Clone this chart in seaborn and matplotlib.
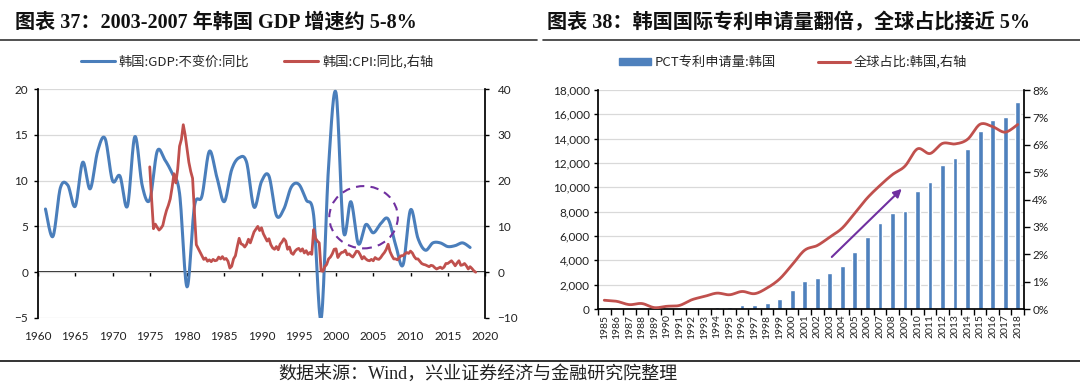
import numpy as np
import pandas as pd
import matplotlib
matplotlib.use("Agg")
import matplotlib.pyplot as plt
from matplotlib.patches import Ellipse, Patch
from matplotlib.lines import Line2D
from matplotlib.ticker import FuncFormatter, PercentFormatter
import seaborn as sns

#==============================================================#
# data
#==============================================================#

# chart 37: Korea real GDP growth (annual, %) and CPI yoy (quarterly, %, right axis)
gdp_years = list(range(1961, 2019))
gdp_growth = [6.9, 3.9, 9.2, 9.5, 7.2, 12.0, 9.1, 13.2, 14.6, 10.0,
              10.5, 7.2, 14.8, 9.4, 7.9, 13.2, 12.3, 10.8, 8.6, -1.6,
              7.2, 8.3, 13.2, 10.4, 7.7, 11.2, 12.5, 12.0, 7.1, 9.9,
              10.5, 6.2, 6.9, 9.3, 9.6, 7.9, 6.2, -5.1, 11.5, 19.6,
              4.5, 7.7, 3.1, 5.2, 4.3, 5.3, 5.8, 3.0, 0.8, 6.8,
              3.7, 2.4, 3.2, 3.2, 2.8, 2.9, 3.2, 2.7]

cpi_start = 1975
cpi_yoy = [23.0, 16.0, 9.5, 10.5,   # 1975
           9.8, 9.2, 9.6, 10.2,     # 1976
           12.0, 13.5, 14.6, 16.0,  # 1977
           18.5, 21.5, 19.5, 22.5,  # 1978
           27.5, 29.0, 32.2, 30.0,  # 1979
           27.0, 24.0, 22.0, 20.5,  # 1980
           13.0, 6.0, 5.2, 4.4,     # 1981
           3.6, 2.8, 3.1, 2.4,      # 1982
           2.7, 2.3, 2.8, 2.5,      # 1983
           2.6, 3.3, 2.9, 3.4,      # 1984
           2.8, 3.0, 2.4, 0.9,      # 1985
           1.3, 2.9, 3.6, 5.6,      # 1986
           7.4, 6.2, 6.0, 5.5,      # 1987
           6.1, 7.2, 6.4, 7.6,      # 1988
           8.8, 9.4, 10.0, 9.1,     # 1989
           9.7, 8.4, 7.6, 6.8,      # 1990
           7.3, 6.0, 5.3, 5.0,      # 1991
           5.6, 4.9, 6.1, 6.6,      # 1992
           7.3, 6.8, 5.0, 5.5,      # 1993
           4.2, 3.9, 4.6, 5.0,      # 1994
           5.2, 4.6, 5.1, 4.2,      # 1995
           4.7, 3.9, 4.3, 3.9,      # 1996
           9.3, 7.4, 6.8, 6.4,      # 1997
           0.3, 0.2, 1.2, 1.7,      # 1998
           2.9, 3.3, 4.0, 5.0,      # 1999
           5.1, 3.2, 3.9, 4.3,      # 2000
           4.4, 4.8, 3.8, 4.0,      # 2001
           3.6, 3.3, 3.9, 4.6,      # 2002
           4.5, 3.8, 2.9, 3.4,      # 2003
           2.9, 2.6, 2.5, 2.8,      # 2004
           2.5, 3.2, 2.9, 2.8,      # 2005
           3.2, 3.8, 4.3, 5.0,      # 2006
           6.1, 4.5, 3.6, 2.9,      # 2007
           2.9, 2.7, 3.2, 3.6,      # 2008
           3.6, 4.0, 4.3, 4.1,      # 2009
           4.6, 4.2, 3.4, 2.9,      # 2010
           2.9, 2.4, 1.9, 1.7,      # 2011
           1.6, 1.4, 1.2, 1.5,      # 2012
           1.4, 1.0, 0.7, 0.9,      # 2013
           1.1, 0.8, 1.1, 1.9,      # 2014
           1.9, 2.2, 2.5, 2.0,      # 2015
           1.4, 2.0, 2.5, 1.5,      # 2016
           1.6, 1.9, 1.4, 0.7,      # 2017
           1.2, 0.8, 0.3, 0.0]      # 2018

# chart 38: Korea PCT applications and global share (%, right axis)
pct_years = [str(y) for y in range(1985, 2019)]
pct_apps = [5, 6, 8, 10, 12, 15, 20, 40, 100, 170, 190, 310, 330, 520, 850,
            1580, 2320, 2520, 2950, 3560, 4690, 5950, 7060, 7900, 8040,
            9670, 10450, 11850, 12390, 13140, 14590, 15560, 15760, 17010]
pct_share = [0.32, 0.28, 0.16, 0.20, 0.05, 0.10, 0.13, 0.34, 0.46, 0.58,
             0.52, 0.64, 0.56, 0.77, 1.10, 1.62, 2.15, 2.32, 2.63, 2.96,
             3.51, 4.06, 4.51, 4.91, 5.22, 5.85, 5.68, 6.05, 6.03, 6.20,
             6.75, 6.66, 6.46, 6.74]

title_l = "图表 37：2003-2007 年韩国 GDP 增速约 5-8%"
title_r = "图表 38：韩国国际专利申请量翻倍，全球占比接近 5%"
source = "数据来源：Wind，兴业证券经济与金融研究院整理"

BLUE = "#4A7EBB"
RED = "#C0504D"
PURPLE = "#7030A0"
GRID = "#D9D9D9"


def smooth(x, y, n=16):
    """Excel-like smoothed line (bezier through every point)."""
    p = np.column_stack([x, y]).astype(float)
    ext = np.vstack([p[0], p, p[-1]])
    t = np.linspace(0, 1, n)[:, None]
    out = []
    for i in range(len(p) - 1):
        p0, p1, p2, p3 = ext[i], ext[i + 1], ext[i + 2], ext[i + 3]
        c1 = p1 + (p2 - p0) / 6
        c2 = p2 - (p3 - p1) / 6
        seg = ((1 - t) ** 3) * p1 + 3 * ((1 - t) ** 2) * t * c1 + 3 * (1 - t) * t ** 2 * c2 + t ** 3 * p2
        out.append(seg if i == 0 else seg[1:])
    out = np.vstack(out)
    return out[:, 0], out[:, 1]


sns.set_theme(style="white")
plt.rcParams['font.family'] = ['Lato', 'Noto Sans CJK SC', 'DejaVu Sans']
CJK = ['Noto Sans CJK SC', 'DejaVu Sans']
SERIF = ['Liberation Serif', 'Noto Sans CJK SC']

W, H = 1080, 385
fig = plt.figure(figsize=(W / 100, H / 100), dpi=100)

#==============================================================#
# left chart
#==============================================================#
ax1 = fig.add_axes([38 / W, 1 - 318 / H, (485 - 38) / W, (318 - 89) / H])
ax2 = ax1.twinx()

gx, gy = smooth(gdp_years, gdp_growth)
sns.lineplot(x=gx, y=gy, sort=False, estimator=None, color=BLUE, lw=2.2, ax=ax1)

cpi_x = cpi_start + np.arange(len(cpi_yoy)) * 0.25
sns.lineplot(x=cpi_x, y=cpi_yoy, sort=False, estimator=None, color=RED, lw=2.0, ax=ax2)

ax1.set_xlim(1960, 2020)
ax1.set_ylim(-5, 20)
ax2.set_ylim(-10, 40)
ax1.set_xticks(range(1960, 2021, 5))
ax1.set_yticks(range(-5, 21, 5))
ax2.set_yticks(range(-10, 41, 10))
ax1.yaxis.grid(True, color=GRID, lw=0.9)
ax1.xaxis.grid(False)
ax2.grid(False)

for a in (ax1, ax2):
    a.spines['top'].set_visible(False)
    a.spines['bottom'].set_visible(False)
ax1.spines['left'].set_color('black')
ax1.spines['right'].set_visible(False)
ax2.spines['left'].set_visible(False)
ax2.spines['right'].set_color('black')
ax1.tick_params(axis='x', length=0, pad=9, labelsize=8.5, colors='#222222')
ax1.tick_params(axis='y', left=True, direction='out', length=3, width=1, pad=4,
                labelsize=8.5, colors='#222222')
ax1.tick_params(axis='y', color='black')
ax2.tick_params(axis='y', right=True, direction='out', length=3, width=1, pad=6,
                labelsize=8.5, colors='#222222')
ax2.tick_params(axis='y', color='black')
ax1.set_xlabel('')
ax2.set_ylabel('')

# zero line with year ticks
zero_loc = (0 - ax1.get_ylim()[0]) / (ax1.get_ylim()[1] - ax1.get_ylim()[0])
sec = ax1.secondary_xaxis(zero_loc)
sec.set_xticks(range(1960, 2021, 5))
sec.spines['bottom'].set_color('black')
sec.spines['bottom'].set_linewidth(1.2)
sec.spines['top'].set_visible(False)
sec.tick_params(axis='x', direction='out', length=3, width=1, color='black',
                labelbottom=False, labeltop=False, bottom=True, top=False)

ax1.add_patch(Ellipse((2003.7, 6.0), width=9.2, height=6.8, fill=False,
                      ec=PURPLE, lw=1.5, ls=(0, (4, 3)), zorder=5))

h_l = [Line2D([], [], color=BLUE, lw=2.2), Line2D([], [], color=RED, lw=2.2)]
fig.legend(h_l, ["韩国:GDP:不变价:同比", "韩国:CPI:同比,右轴"], loc='center',
           bbox_to_anchor=(257 / W, 1 - 62 / H), ncol=2, frameon=False,
           prop={'family': CJK, 'size': 9.5}, handlelength=2.6, columnspacing=2.6,
           handletextpad=0.3)

#==============================================================#
# right chart
#==============================================================#
ax3 = fig.add_axes([598 / W, 1 - 309 / H, 426 / W, 219 / H])
ax4 = ax3.twinx()

sns.barplot(x=pct_years, y=pct_apps, color="#4F81BD", saturation=1, width=0.38, ax=ax3)
idx = np.arange(len(pct_years))
sx, sy = smooth(idx, pct_share)
sns.lineplot(x=sx, y=sy, sort=False, estimator=None, color=RED, lw=2.0, ax=ax4)

ax3.set_xlim(-0.5, len(pct_years) - 0.5)
ax3.set_ylim(0, 18000)
ax4.set_ylim(0, 8)
ax3.set_yticks(range(0, 18001, 2000))
ax4.set_yticks(range(0, 9))
ax3.yaxis.set_major_formatter(FuncFormatter(lambda v, _: f"{v:,.0f}"))
ax4.yaxis.set_major_formatter(PercentFormatter(xmax=100, decimals=0))
ax3.yaxis.grid(True, color=GRID, lw=0.9)
ax3.xaxis.grid(False)
ax4.grid(False)
ax3.set_xticks(idx)
ax3.set_xticklabels(pct_years, rotation=90)
ax3.set_xticks(np.arange(-0.5, len(pct_years)), minor=True)
ax3.tick_params(axis='x', which='major', length=0, pad=4, labelsize=7.5, colors='#222222')
ax3.tick_params(axis='x', which='minor', bottom=True, direction='out', length=4, width=1, color='black')
ax3.tick_params(axis='y', left=True, direction='out', length=3, width=1, pad=3,
                labelsize=8.5, colors='#222222')
ax3.tick_params(axis='y', color='black')
ax4.tick_params(axis='y', right=True, direction='out', length=4, width=1, pad=2,
                labelsize=8.5, colors='#222222')
ax4.tick_params(axis='y', color='black')
for a in (ax3, ax4):
    a.spines['top'].set_visible(False)
    a.set_xlabel('')
    a.set_ylabel('')
ax3.spines['left'].set_color('black')
ax3.spines['bottom'].set_color('black')
ax3.spines['right'].set_visible(False)
ax4.spines['left'].set_visible(False)
ax4.spines['bottom'].set_visible(False)
ax4.spines['right'].set_color('black')

ax4.annotate('', xy=(23.9, 4.46), xytext=(18.0, 1.83),
             arrowprops=dict(arrowstyle='-|>', color=PURPLE, lw=1.5, mutation_scale=12))

h_r = [Patch(color="#4F81BD"), Line2D([], [], color=RED, lw=2.2)]
fig.legend(h_r, ["PCT专利申请量:韩国", "全球占比:韩国,右轴"], loc='center',
           bbox_to_anchor=(793 / W, 1 - 62 / H), ncol=2, frameon=False,
           prop={'family': CJK, 'size': 9.5}, handlelength=2.4, handleheight=0.45,
           columnspacing=3.2, handletextpad=0.3)

#==============================================================#
# titles, rules and source
#==============================================================#
fig.text(15 / W, 1 - 23 / H, title_l, family=SERIF, weight='bold', size=14.5,
         va='center', ha='left', color='#111111')
fig.text(547 / W, 1 - 23 / H, title_r, family=SERIF, weight='bold', size=14.5,
         va='center', ha='left', color='#111111')
for x0, x1 in [(0.0, 0.497), (0.503, 1.0)]:
    fig.add_artist(Line2D([x0, x1], [1 - 40 / H] * 2, color='#333333', lw=1.2,
                          transform=fig.transFigure))
fig.add_artist(Line2D([0.0, 1.0], [1 - 361 / H] * 2, color='#333333', lw=1.4,
                      transform=fig.transFigure))
fig.text(478 / W, 1 - 374 / H, source, family=SERIF, size=13, va='center',
         ha='center', color='#222222')

plt.savefig('out.png', dpi=100)
